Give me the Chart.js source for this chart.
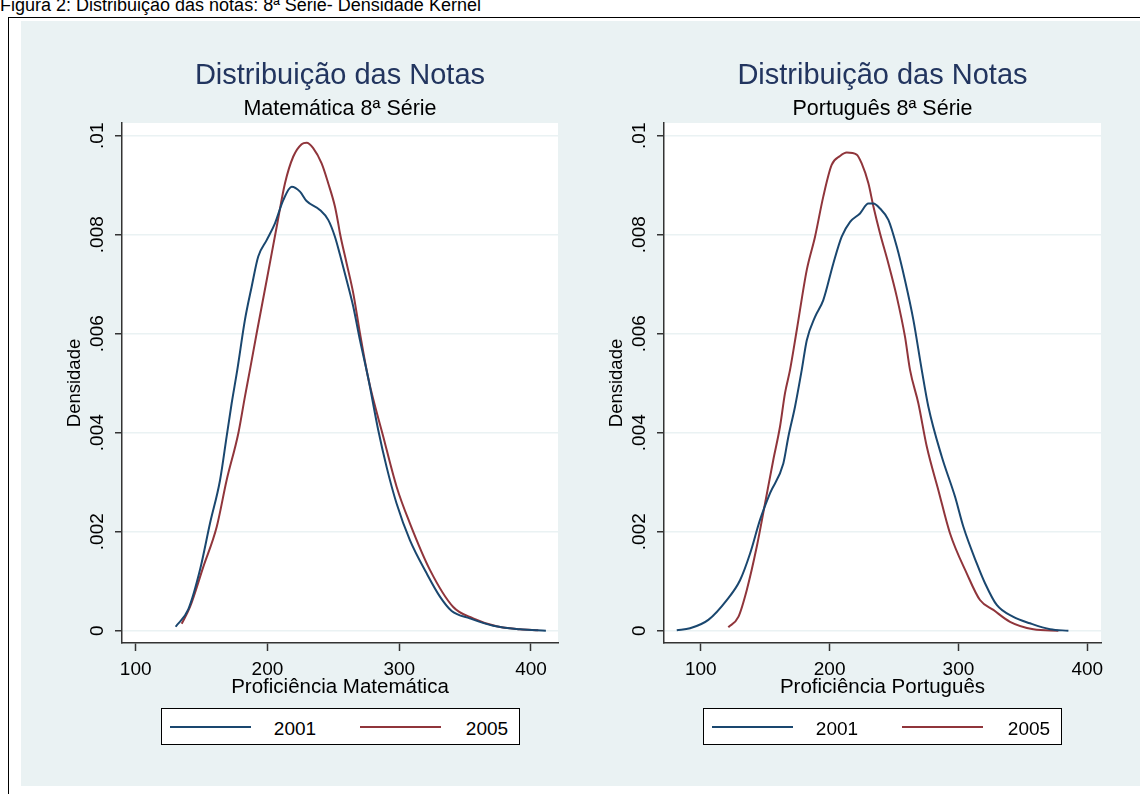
<!DOCTYPE html>
<html><head><meta charset="utf-8">
<script src="https://cdn.jsdelivr.net/npm/chart.js@4.4.1/dist/chart.umd.min.js"></script>
<style>
html,body{margin:0;padding:0;}
body{width:1140px;height:794px;background:#fff;position:relative;overflow:hidden;font-family:"Liberation Sans",Arial,sans-serif;}
#caption{position:absolute;left:0px;top:-4px;font-size:18px;line-height:18px;color:#000;white-space:nowrap;}
#frameV{position:absolute;left:8px;top:17px;width:1px;height:800px;background:#000;}
#frameH{position:absolute;left:8px;top:17px;width:1140px;height:1px;background:#000;}
#panel{position:absolute;left:21px;top:21px;width:1119px;height:765px;background:#eaf2f3;}
.ttl{position:absolute;white-space:nowrap;transform:translateX(-50%);}
.t1{font-size:29px;line-height:29px;color:#22355f;}
.t2{font-size:21.5px;line-height:21.5px;color:#000;}
.cv{position:absolute;top:20px;}
.lgbox{position:absolute;background:#fff;border:1px solid #000;box-sizing:border-box;}
.lgline{position:absolute;height:2px;}
.lgtxt{position:absolute;font-size:19px;line-height:19px;color:#000;transform:translateX(-50%);white-space:nowrap;}
</style></head>
<body>
<div id="caption">Figura 2: Distribuição das notas: 8ª Série- Densidade Kernel</div>
<div id="frameV"></div><div id="frameH"></div>
<div id="panel"></div>
<canvas id="c1" class="cv" width="542" height="690" style="left:20px"></canvas>
<canvas id="c2" class="cv" width="560" height="690" style="left:562px"></canvas>
<div id="texts"></div>
<script>
// ---------- data ----------
const seriesNames = ["2001", "2005"];
const seriesColors = ["#1a476f", "#90353b"];
const chartTitle = "Distribuição das Notas";
const subtitles = ["Matemática 8ª Série", "Português 8ª Série"];
const xTitles = ["Proficiência Matemática", "Proficiência Português"];
const yTitle = "Densidade";
const xTickValues = [100, 200, 300, 400];
const xTickLabels = ["100", "200", "300", "400"];
const yTickValues = [0, 0.002, 0.004, 0.006, 0.008, 0.01];
const yTickLabels = ["0", ".002", ".004", ".006", ".008", ".01"];

// Matemática 2001
const matX2001 = [130.3,139.9,148.8,156.4,164,169,172.8,177.1,182.9,188,193,199.4,205.7,212,218.4,224.7,229.7,239.8,246.1,251.2,255,260.1,265.1,270.2,276.5,284.1,290.4,298,308.1,320.8,330.9,339.8,353.6,371.3,391.6,411.3];
const matY2001 = [0.00008,0.00043,0.00123,0.00217,0.00304,0.00392,0.00459,0.00527,0.00628,0.00695,0.00756,0.00789,0.00823,0.00870,0.00897,0.00887,0.00868,0.00850,0.00830,0.00796,0.00760,0.00708,0.00655,0.00587,0.00510,0.00405,0.00331,0.00257,0.00183,0.00116,0.00069,0.00040,0.00025,0.00010,0.00003,0.00000];
// Matemática 2005
const matX2005 = [134.9,141.2,151.3,161.5,169,177.9,182.9,186.7,191.8,199.4,207,213.3,219.6,225.9,229.7,234.7,241.1,246.1,251.2,253.7,255,260.1,265.1,270.2,276.5,287.9,298,308.1,323.3,341,356.1,373.9,391.6,405.5];
const matY2005 = [0.00014,0.00048,0.00129,0.00210,0.00304,0.00399,0.00473,0.00527,0.00601,0.00708,0.00816,0.00904,0.00958,0.00983,0.00986,0.00975,0.00944,0.00904,0.00857,0.00823,0.00803,0.00742,0.00682,0.00601,0.00510,0.00392,0.00291,0.00217,0.00123,0.00048,0.00025,0.00009,0.00003,0.00001];
// Português 2001
const porX2001 = [81.4,91.7,105.9,120.2,130.5,138.3,146,153.8,164.1,168,173.2,178.4,182.3,188.7,195.1,202.9,209.4,215.9,223.6,230.1,234,239.1,245.6,252.1,258.5,265,271.5,276.6,287,297.3,303.8,314.2,320.6,329.7,342.6,355.5,371.1,385.3];
const porY2001 = [0.00001,0.00005,0.00022,0.00062,0.00102,0.00156,0.00224,0.00278,0.00338,0.00392,0.00453,0.00527,0.00587,0.00634,0.00668,0.00742,0.00796,0.00826,0.00843,0.00863,0.00863,0.00853,0.00830,0.00776,0.00708,0.00628,0.00527,0.00453,0.00352,0.00271,0.00210,0.00136,0.00096,0.00052,0.00028,0.00015,0.00003,0.00000];
// Português 2005
const porX2005 = [121.4,129.2,135.7,143.5,149.9,156.3,161.5,165.4,169.3,174.5,182.3,188.7,195.1,201.6,208.1,213.3,221,224.9,230.1,234,239.1,245.6,252.1,258.5,262.4,268.9,275.4,284.4,293.4,306.4,316.7,327.1,340,358.1,377.5];
const porY2005 = [0.00007,0.00028,0.00082,0.00170,0.00257,0.00345,0.00412,0.00480,0.00527,0.00607,0.00729,0.00796,0.00877,0.00941,0.00959,0.00966,0.00962,0.00944,0.00904,0.00857,0.00803,0.00742,0.00675,0.00594,0.00527,0.00459,0.00372,0.00284,0.00197,0.00116,0.00062,0.00042,0.00018,0.00003,0.00000];

const panels = [
  {id:"c1", xs:[matX2001, matX2005], ys:[matY2001, matY2005], xMin:89.6, xMax:420.5, padRight:4},
  {id:"c2", xs:[porX2001, porX2005], ys:[porY2001, porY2005], xMin:71.5, xMax:410.6, padRight:21}
];
const yMin = -0.000248, yMax = 0.010257;
const FONT = '"Liberation Sans", Arial, sans-serif';

const bgPlugin = {
  id: 'plotBg',
  beforeDraw(chart) {
    const a = chart.chartArea, ctx = chart.ctx;
    ctx.save(); ctx.fillStyle = '#ffffff';
    ctx.fillRect(a.left, a.top, a.right - a.left, a.bottom - a.top);
    ctx.restore();
  }
};
const rotYLabels = {
  id: 'rotY',
  afterDraw(chart) {
    const ys = chart.scales.y, ctx = chart.ctx;
    ctx.save();
    ctx.font = '19px ' + FONT; ctx.fillStyle = '#000';
    ctx.textAlign = 'center'; ctx.textBaseline = 'alphabetic';
    yTickValues.forEach((v, i) => {
      const py = ys.getPixelForValue(v);
      ctx.save();
      ctx.translate(chart.chartArea.left - 19.2, py);
      ctx.rotate(-Math.PI / 2);
      ctx.fillText(yTickLabels[i], 0, 0);
      ctx.restore();
    });
    ctx.restore();
  }
};

panels.forEach((p, k) => {
  const datasets = seriesNames.map((name, s) => ({
    label: name,
    data: p.xs[s].map((x, i) => ({x: x, y: p.ys[s][i]})),
    borderColor: seriesColors[s],
    borderWidth: 2,
    pointRadius: 0,
    fill: false,
    cubicInterpolationMode: 'monotone'
  }));
  new Chart(document.getElementById(p.id), {
    type: 'line',
    data: {datasets},
    plugins: [bgPlugin, rotYLabels],
    options: {
      responsive: false, animation: false, devicePixelRatio: 1,
      layout: {padding: {top: 103, left: 0, right: p.padRight, bottom: 0}},
      plugins: {legend: {display: false}, title: {display: false}, tooltip: {enabled: false}},
      scales: {
        x: {
          type: 'linear', min: p.xMin, max: p.xMax,
          afterBuildTicks: s => { s.ticks = xTickValues.map(v => ({value: v})); },
          afterFit: s => { s.height = 67; },
          ticks: {
            callback: (v) => { const i = xTickValues.indexOf(v); return i >= 0 ? xTickLabels[i] : ''; },
            font: {family: FONT, size: 19}, color: '#000', padding: 7, maxRotation: 0, autoSkip: false
          },
          grid: {drawOnChartArea: false, drawTicks: true, tickLength: 8, tickColor: '#333', tickWidth: 1.5},
          border: {display: true, color: '#333', width: 1.5},
          title: {display: true, text: xTitles[k], color: '#000', font: {family: FONT, size: 20.5, lineHeight: 1.2}, padding: {top: 0, bottom: 10}}
        },
        y: {
          type: 'linear', min: yMin, max: yMax,
          afterBuildTicks: s => { s.ticks = yTickValues.map(v => ({value: v})); },
          afterFit: s => { s.width = 102; },
          ticks: {display: false},
          grid: {drawOnChartArea: true, color: '#eaf2f3', lineWidth: 1.5, drawTicks: true, tickLength: 7, tickColor: '#333', tickWidth: 1.5},
          border: {display: true, color: '#333', width: 1.5},
          title: {display: true, text: yTitle, color: '#000', font: {family: FONT, size: 18.5, lineHeight: 1.2}, padding: {top: 44, bottom: 0}}
        }
      }
    }
  });
});

// ---------- HTML titles and legends ----------
const texts = document.getElementById('texts');
function add(tag, cls, style, txt) {
  const e = document.createElement(tag); e.className = cls; Object.assign(e.style, style);
  if (txt !== undefined) e.textContent = txt; texts.appendChild(e); return e;
}
const centers = [340, 882.5];
const offsets = [0, 542];
centers.forEach((cx, k) => {
  add('div', 'ttl t1', {left: cx + 'px', top: (85 - 0.8465 * 29) + 'px'}, chartTitle);
  add('div', 'ttl t2', {left: cx + 'px', top: (116 - 0.8465 * 21.5) + 'px'}, subtitles[k]);
  const o = offsets[k];
  add('div', 'lgbox', {left: (161 + o) + 'px', top: '708px', width: '359px', height: '37px'});
  const lineL = [170, 360], txtC = [295, 487];
  seriesNames.forEach((n, s) => {
    add('div', 'lgline', {left: (lineL[s] + o) + 'px', top: '726px', width: '81px', background: seriesColors[s]});
    add('div', 'lgtxt', {left: (txtC[s] + o) + 'px', top: (735 - 0.8465 * 19) + 'px'}, n);
  });
});
</script>
</body></html>
